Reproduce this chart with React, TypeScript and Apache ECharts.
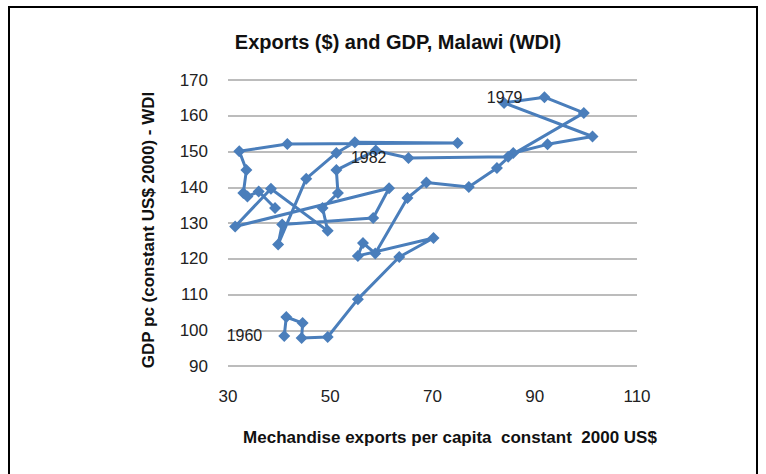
import React, { useEffect, useRef } from "react";
import * as echarts from "echarts";

const years: number[] = [
  1960, 1961, 1962, 1963, 1964, 1965, 1966, 1967, 1968, 1969,
  1970, 1971, 1972, 1973, 1974, 1975, 1976, 1977, 1978, 1979,
  1980, 1981, 1982, 1983, 1984, 1985, 1986, 1987, 1988, 1989,
  1990, 1991, 1992, 1993, 1994, 1995, 1996, 1997, 1998, 1999,
  2000, 2001, 2002, 2003, 2004,
];

const exportsPc: number[] = [
  41.0, 41.4, 44.6, 44.4, 49.5, 55.4, 63.5, 70.2, 55.4, 56.4,
  58.8, 65.1, 68.8, 77.1, 82.6, 85.8, 92.5, 101.3, 84.0, 91.9,
  99.6, 84.8, 65.3, 58.9, 51.2, 51.5, 48.5, 49.5, 38.4, 31.4,
  61.5, 58.4, 40.6, 39.8, 45.3, 51.2, 54.8, 74.9, 41.6, 32.2,
  33.6, 33.0, 33.8, 36.0, 39.2,
];

const gdpPc: number[] = [
  98.4, 103.7, 102.0, 97.8, 98.1, 108.7, 120.5, 125.8, 120.8, 124.4,
  121.5, 137.0, 141.3, 140.1, 145.4, 149.6, 152.0, 154.2, 163.6, 165.2,
  160.8, 148.5, 148.2, 150.3, 144.8, 138.4, 134.2, 127.8, 139.6, 129.0,
  139.7, 131.4, 129.6, 124.0, 142.4, 149.6, 152.6, 152.4, 152.1, 150.1,
  144.8, 138.4, 137.4, 138.8, 134.2,
];

const labelledYears: number[] = [1960, 1979, 1982];

const xTicks = { min: 30, max: 110, interval: 20 };
const yTicks = { min: 90, max: 170, interval: 10 };

const titleText = "Exports ($) and GDP, Malawi (WDI)";
const xTitle = "Mechandise exports per capita  constant  2000 US$";
const yTitle = "GDP pc (constant US$ 2000) - WDI";

export default function App() {
  const ref = useRef<HTMLDivElement>(null);

  useEffect(() => {
    document.body.style.margin = "0";
    if (!ref.current) return;
    const chart = echarts.init(ref.current, undefined, { renderer: "svg" });
    const font = "'Liberation Sans', Arial, sans-serif";

    const data = years.map((yr, i) => {
      const item: any = { value: [exportsPc[i], gdpPc[i]] };
      if (labelledYears.includes(yr)) {
        item.label = {
          show: true,
          position: "left",
          distance: 16,
          formatter: String(yr),
          color: "#222",
          fontSize: 16,
          fontFamily: font,
        };
      }
      return item;
    });

    chart.setOption({
      animation: false,
      backgroundColor: "#ffffff",
      title: {
        text: titleText,
        left: 393,
        top: 27,
        textAlign: "center",
        textStyle: { fontFamily: font, fontSize: 20, fontWeight: "bold", color: "#111" },
      },
      grid: { left: 228, right: 129, top: 80, bottom: 108 },
      xAxis: {
        type: "value",
        min: xTicks.min,
        max: xTicks.max,
        interval: xTicks.interval,
        axisLine: { show: false },
        axisTick: { show: false },
        splitLine: { show: false },
        axisLabel: { color: "#222", fontSize: 17, fontFamily: font, margin: 22 },
      },
      yAxis: {
        type: "value",
        min: yTicks.min,
        max: yTicks.max,
        interval: yTicks.interval,
        axisLine: { show: false },
        axisTick: { show: false },
        splitLine: { show: true, lineStyle: { color: "#a6a6a6", width: 1.5 } },
        axisLabel: { color: "#222", fontSize: 17, fontFamily: font, margin: 20 },
      },
      graphic: [
        {
          type: "rect",
          shape: { x: 9, y: 7, width: 748, height: 490 },
          style: { fill: "none", stroke: "#000", lineWidth: 2 },
          silent: true,
        },
        {
          type: "text",
          x: 148,
          y: 230,
          rotation: Math.PI / 2,
          style: {
            text: yTitle,
            font: `bold 17px ${font}`,
            fill: "#111",
            textAlign: "center",
            textVerticalAlign: "middle",
          },
        },
        {
          type: "text",
          x: 450,
          y: 437,
          style: {
            text: xTitle,
            font: `bold 17px ${font}`,
            fill: "#111",
            textAlign: "center",
            textVerticalAlign: "middle",
          },
        },
      ],
      series: [
        {
          type: "line",
          data,
          symbol: "diamond",
          symbolSize: 12,
          showSymbol: true,
          lineStyle: { color: "#4a7ebb", width: 3 },
          itemStyle: { color: "#4a7ebb" },
          z: 3,
        },
      ],
    });

    return () => chart.dispose();
  }, []);

  return <div ref={ref} style={{ width: 766, height: 474 }} />;
}
